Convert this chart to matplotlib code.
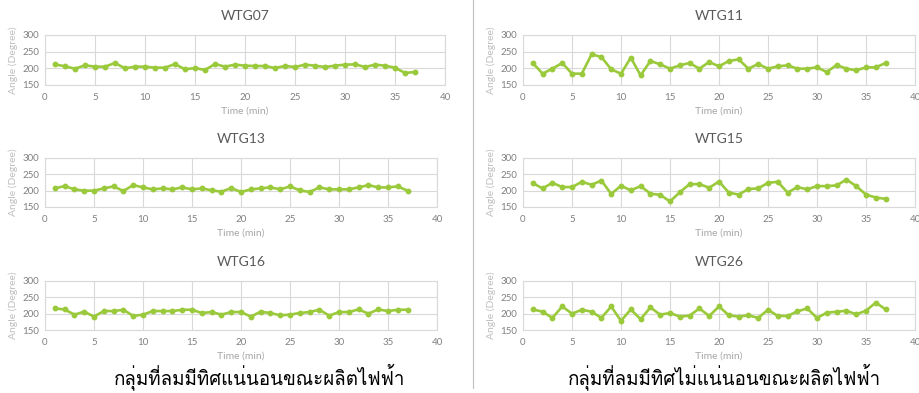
import matplotlib
matplotlib.use("Agg")
import matplotlib.pyplot as plt
from matplotlib import font_manager
from matplotlib.ft2font import FT2Font
from matplotlib.lines import Line2D

# time axis (minutes) and wind direction per turbine
minutes = list(range(1, 38))

wtg07 = [212, 206, 199, 209, 205, 205, 216, 200, 205, 205, 202, 202, 213, 197, 201, 195,
         213, 205, 211, 208, 207, 207, 201, 207, 204, 211, 208, 204, 208, 211, 212, 204,
         211, 208, 202, 186, 189]
wtg11 = [216, 184, 199, 216, 184, 184, 242, 234, 197, 184, 232, 179, 222, 212, 199, 209,
         216, 199, 219, 206, 222, 227, 199, 213, 199, 206, 209, 199, 199, 203, 189, 210,
         199, 194, 203, 203, 216]
wtg13 = [207, 214, 204, 200, 200, 207, 213, 199, 217, 210, 204, 207, 204, 210, 204, 207,
         201, 197, 208, 196, 204, 207, 210, 204, 213, 201, 196, 210, 204, 204, 204, 210,
         217, 210, 210, 213, 200]
wtg15 = [223, 207, 224, 211, 211, 227, 218, 231, 190, 215, 201, 214, 191, 187, 167, 195,
         220, 220, 209, 228, 194, 188, 205, 207, 224, 227, 194, 211, 204, 214, 214, 216,
         234, 214, 188, 179, 175]
wtg16 = [216, 213, 197, 206, 191, 208, 208, 212, 193, 197, 208, 208, 208, 212, 212, 202,
         205, 197, 205, 205, 191, 206, 202, 195, 197, 202, 205, 212, 194, 205, 205, 213,
         200, 213, 208, 212, 212]
wtg26 = [213, 206, 187, 222, 200, 212, 206, 187, 222, 178, 213, 183, 219, 197, 202, 191,
         194, 216, 193, 222, 195, 191, 195, 187, 212, 193, 193, 207, 216, 187, 203, 206,
         209, 198, 209, 234, 213]

names = ["WTG07", "WTG11", "WTG13", "WTG15", "WTG16", "WTG26"]
series = [wtg07, wtg11, wtg13, wtg15, wtg16, wtg26]

x_ticks = [0, 5, 10, 15, 20, 25, 30, 35, 40]
y_ticks = [150, 200, 250, 300]

caption_left = "กลุ่มที่ลมมีทิศแน่นอนขณะผลิตไฟฟ้า"
caption_right = "กลุ่มที่ลมมีทิศไม่แน่นอนขณะผลิตไฟฟ้า"


def find_thai_font():
    for f in font_manager.fontManager.ttflist:
        try:
            if 0x0E01 in FT2Font(f.fname).get_charmap():
                return f.name
        except Exception:
            pass
    return "DejaVu Sans"


thai_font = find_thai_font()
plt.rcParams["font.family"] = ["Lato", "DejaVu Sans"]

W, H = 920, 393
fig = plt.figure(figsize=(W / 100, H / 100), dpi=100)

# axes boxes in pixels: left, top, right, bottom
boxes = [
    (45, 35, 445, 85), (523, 35, 915, 85),
    (45, 158, 437, 207), (523, 158, 915, 207),
    (45, 281, 437, 330), (523, 281, 915, 330),
]

green = "#9ACA3C"
grid_c = "#D9D9D9"
text_c = "#595959"
tick_c = "#808080"
light_c = "#A6A6A6"

for (l, t, r, b), name, vals in zip(boxes, names, series):
    ax = fig.add_axes([l / W, 1 - b / H, (r - l) / W, (b - t) / H])
    ax.plot(minutes, vals, color=green, lw=1.9, marker="o", ms=3.2,
            solid_joinstyle="round", zorder=3)
    ax.set_xlim(0, 40)
    ax.set_ylim(150, 300)
    ax.set_xticks(x_ticks)
    ax.set_yticks(y_ticks)
    ax.grid(True, color=grid_c, lw=0.8)
    ax.set_axisbelow(True)
    for s in ax.spines.values():
        s.set_color(grid_c)
        s.set_linewidth(0.8)
    ax.tick_params(length=0, labelsize=7, labelcolor=tick_c)
    ax.tick_params(axis="x", pad=6)
    ax.tick_params(axis="y", pad=4)
    ax.set_title(name, fontsize=10, color=text_c, pad=11)
    ax.set_xlabel("Time (min)", fontsize=7.5, color=light_c, labelpad=3)
    ax.set_ylabel("Angle (Degree)", fontsize=7.5, color="#BFBFBF", labelpad=3)

# divider between the two groups
fig.add_artist(Line2D([473 / W, 473 / W], [1 - 388 / H, 1.0], color="#BFBFBF", lw=0.8))

fig.text(260 / W, 1 - 377 / H, caption_left, ha="center", va="center",
         fontsize=13.5, color="#000000", family=[thai_font, "DejaVu Sans"])
fig.text(724 / W, 1 - 377 / H, caption_right, ha="center", va="center",
         fontsize=13.5, color="#000000", family=[thai_font, "DejaVu Sans"])

fig.savefig("out.png", dpi=100, facecolor="white")
